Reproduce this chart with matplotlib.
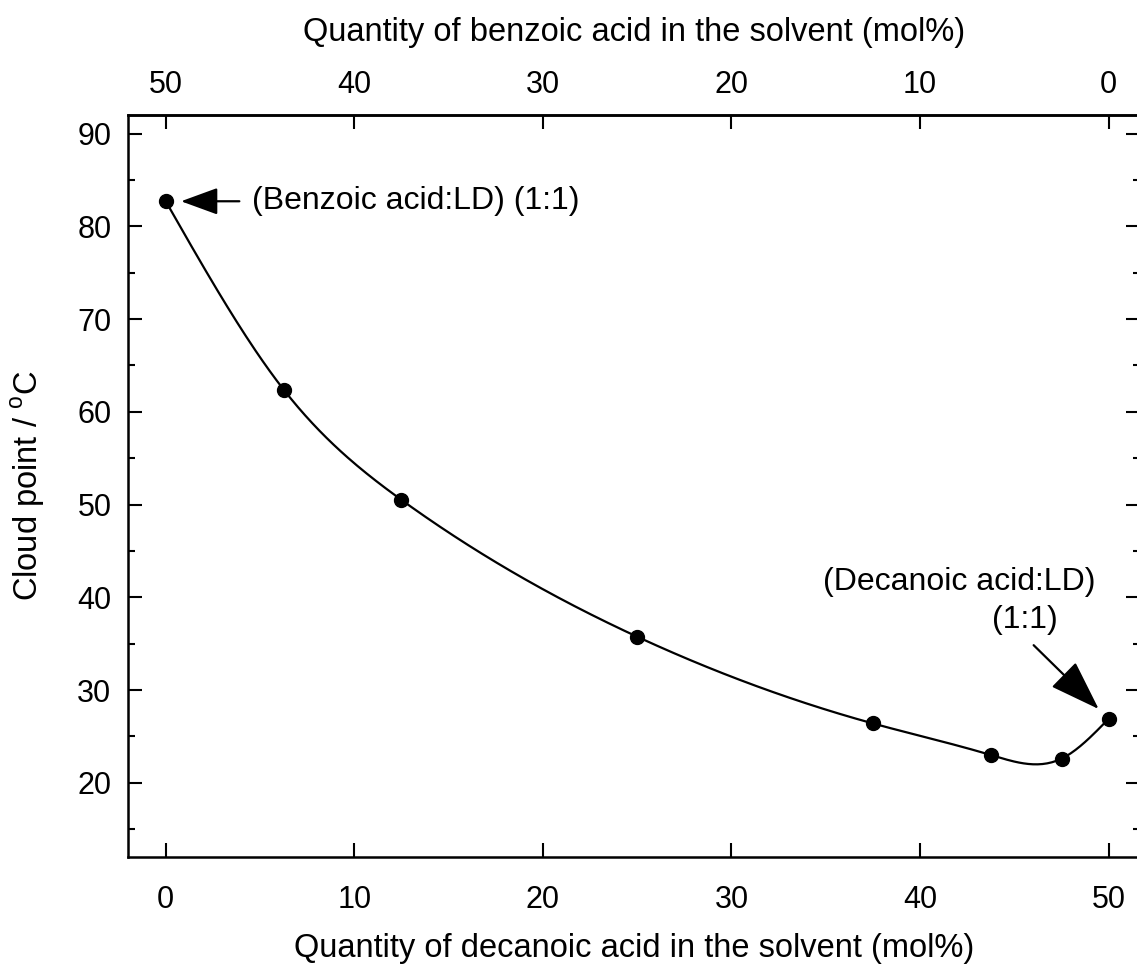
import numpy as np
import matplotlib
matplotlib.use("Agg")
import matplotlib.pyplot as plt

# cloud point data
decanoic = [0, 6.25, 12.5, 25, 37.5, 43.75, 47.5, 50]
cloud_point = [82.7, 62.4, 50.5, 35.75, 26.4, 23.0, 22.6, 26.9]
xticks = [0, 10, 20, 30, 40, 50]
yticks = [20, 30, 40, 50, 60, 70, 80, 90]


def natural_spline(x, y, xs):
    '''natural cubic spline through (x, y), evaluated at xs'''
    x = np.asarray(x, float)
    y = np.asarray(y, float)
    n = len(x)
    h = np.diff(x)
    A = np.zeros((n, n))
    b = np.zeros(n)
    A[0, 0] = 1
    A[-1, -1] = 1
    for i in range(1, n - 1):
        A[i, i - 1] = h[i - 1]
        A[i, i] = 2 * (h[i - 1] + h[i])
        A[i, i + 1] = h[i]
        b[i] = 3 * ((y[i + 1] - y[i]) / h[i] - (y[i] - y[i - 1]) / h[i - 1])
    c = np.linalg.solve(A, b)
    seg = np.clip(np.searchsorted(x, xs) - 1, 0, n - 2)
    dx = xs - x[seg]
    bb = (y[seg + 1] - y[seg]) / h[seg] - h[seg] * (2 * c[seg] + c[seg + 1]) / 3
    dd = (c[seg + 1] - c[seg]) / (3 * h[seg])
    return y[seg] + bb * dx + c[seg] * dx**2 + dd * dx**3


plt.rcParams['font.family'] = ['Liberation Sans', 'DejaVu Sans']
plt.rcParams['mathtext.fontset'] = 'custom'
plt.rcParams['mathtext.rm'] = 'Liberation Sans'
TICK_FS = 22
TEXT_FS = 23
LABEL_FS = 23.5

fig = plt.figure(figsize=(11.37, 9.64), dpi=100)
ax = fig.add_axes([0.1126, 0.111, 0.89, 0.7697])

xs = np.linspace(decanoic[0], decanoic[-1], 400)
ax.plot(xs, natural_spline(decanoic, cloud_point, xs), color='black', lw=1.6)
ax.plot(decanoic, cloud_point, 'o', color='black', ms=10)

ax.set_xlim(-2.0, 51.66)
ax.set_ylim(12.0, 92.0)
ax.set_xticks(xticks)
ax.set_yticks(yticks)
ax.set_yticks(np.arange(15, 91, 5), minor=True)

for s in ax.spines.values():
    s.set_linewidth(1.8)
ax.tick_params(which='both', direction='in', width=1.5, right=True, labelsize=TICK_FS)
ax.tick_params(which='major', length=10)
ax.tick_params(which='minor', length=5)
ax.tick_params(axis='x', pad=20)
ax.tick_params(axis='y', pad=12)

top = ax.secondary_xaxis('top', functions=(lambda v: 50 - v, lambda v: 50 - v))
top.set_xticks(xticks)
top.tick_params(direction='in', length=10, width=1.5, labelsize=TICK_FS, pad=11)
top.spines['top'].set_linewidth(1.8)
top.set_xlabel('Quantity of benzoic acid in the solvent (mol%)', fontsize=LABEL_FS, labelpad=21)

ax.set_xlabel('Quantity of decanoic acid in the solvent (mol%)', fontsize=LABEL_FS, labelpad=13)
ax.set_ylabel('Cloud point / $^{\\rm o}$C', fontsize=LABEL_FS, labelpad=22)

# annotations
ax.annotate('', xy=(decanoic[0], cloud_point[0]), xytext=(53, 0),
            textcoords='offset points',
            arrowprops=dict(arrowstyle='-|>,head_length=1.15,head_width=0.42',
                            mutation_scale=20, color='black', lw=1.6,
                            shrinkA=0, shrinkB=11))
ax.annotate('(Benzoic acid:LD) (1:1)', xy=(decanoic[0], cloud_point[0]),
            xytext=(62, 0), textcoords='offset points', va='center', ha='left',
            fontsize=TEXT_FS)

ax.annotate('', xy=(decanoic[-1], cloud_point[-1]), xytext=(-54, 53),
            textcoords='offset points',
            arrowprops=dict(arrowstyle='-|>,head_length=1.6,head_width=0.55',
                            mutation_scale=20, color='black', lw=1.6,
                            shrinkA=0, shrinkB=10))
ax.text(42.1, 41.6, '(Decanoic acid:LD)', ha='center', va='center', fontsize=TEXT_FS)
ax.text(45.56, 37.6, '(1:1)', ha='center', va='center', fontsize=TEXT_FS)

fig.savefig('out.png', dpi=100)
